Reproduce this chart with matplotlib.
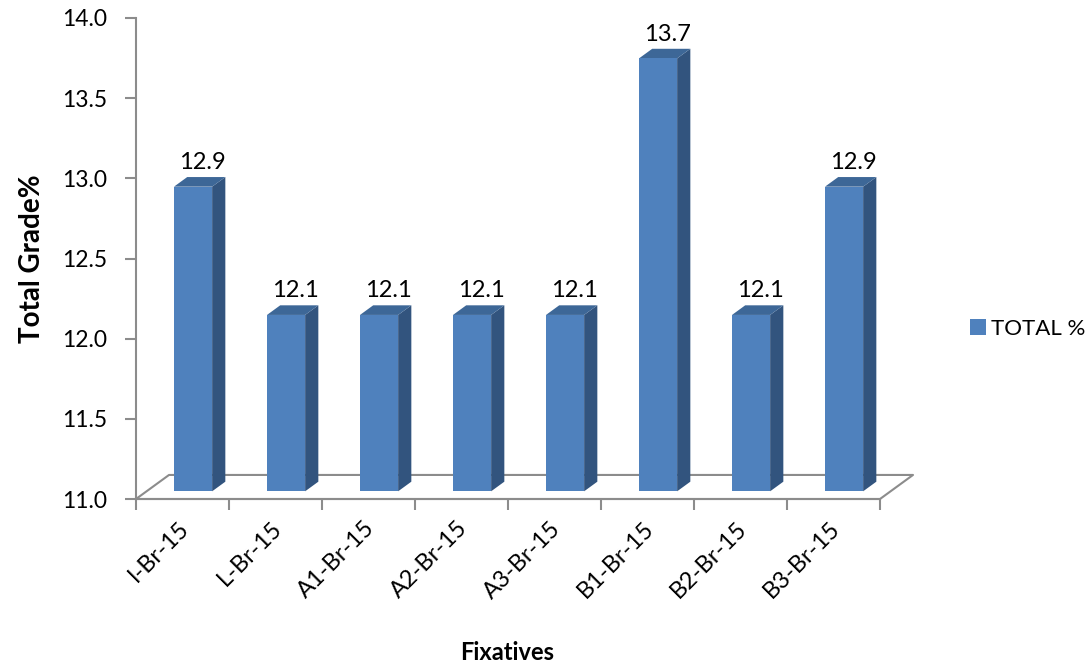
import matplotlib.pyplot as plt
from matplotlib.patches import Polygon, Patch
from matplotlib.transforms import ScaledTranslation

fixatives = ["I-Br-15", "L-Br-15", "A1-Br-15", "A2-Br-15",
             "A3-Br-15", "B1-Br-15", "B2-Br-15", "B3-Br-15"]
total_pct = [12.9, 12.1, 12.1, 12.1, 12.1, 13.7, 12.1, 12.9]
y_ticks = [11.0, 11.5, 12.0, 12.5, 13.0, 13.5, 14.0]

FRONT = "#4f81bd"
TOP = "#3d6797"
SIDE = "#32547e"
AXIS_GREY = "#8c8c8c"

# fake 3d: floor depth in data units, bar placed between two depth fractions
DX, DY = 0.355, 0.15
D0, D1 = 0.32, 0.72
BAR_W = 0.41

plt.rcParams["font.family"] = ["Lato", "DejaVu Sans"]

fig = plt.figure(figsize=(10.91, 6.68), dpi=100)
ax = fig.add_axes([136 / 1091, 169 / 668, 744 / 1091, 481 / 668])
ax.set_xlim(0, len(fixatives))
ax.set_ylim(11, 14)

# floor outline
fx = [0, len(fixatives), len(fixatives) + DX, DX, 0]
fy = [11, 11, 11 + DY, 11 + DY, 11]
ax.plot(fx, fy, color=AXIS_GREY, lw=1.5, clip_on=False, zorder=1)

for i, v in enumerate(total_pct):
    x0 = i + 0.5 - BAR_W / 2 + D0 * DX
    x1 = x0 + BAR_W
    yb = 11 + D0 * DY
    yt = v + D0 * DY
    ddx, ddy = (D1 - D0) * DX, (D1 - D0) * DY
    front = [(x0, yb), (x1, yb), (x1, yt), (x0, yt)]
    side = [(x1, yb), (x1 + ddx, yb + ddy), (x1 + ddx, yt + ddy), (x1, yt)]
    top = [(x0, yt), (x1, yt), (x1 + ddx, yt + ddy), (x0 + ddx, yt + ddy)]
    for pts, c in ((side, SIDE), (top, TOP), (front, FRONT)):
        ax.add_patch(Polygon(pts, closed=True, facecolor=c, edgecolor="none",
                             clip_on=False, zorder=3))
    lab_off = ScaledTranslation(0, 4 / 100, fig.dpi_scale_trans)
    ax.text(x0 + BAR_W / 2 + 0.1, yt + ddy, f"{v}", ha="center", va="bottom",
            fontsize=17, transform=ax.transData + lab_off, zorder=4)

for side_name in ("top", "right"):
    ax.spines[side_name].set_visible(False)
for side_name in ("left", "bottom"):
    ax.spines[side_name].set_color(AXIS_GREY)
    ax.spines[side_name].set_linewidth(1.5)

ax.set_yticks(y_ticks)
ax.set_yticklabels([f"{t:.1f}" for t in y_ticks], fontsize=16.5)
ax.tick_params(axis="y", length=8, width=1.5, color=AXIS_GREY, pad=13)
ax.set_xticks(range(len(fixatives) + 1))
ax.set_xticklabels([])
ax.tick_params(axis="x", length=8, width=1.5, color=AXIS_GREY)

tick_off = ScaledTranslation(3 / 100, -26 / 100, fig.dpi_scale_trans)
for i, name in enumerate(fixatives):
    ax.text(i + 0.5, 0, name, rotation=45, ha="right", va="center",
            rotation_mode="anchor", fontsize=17,
            transform=ax.get_xaxis_transform() + tick_off)

ax.set_ylabel("Total Grade%", fontsize=20, fontweight="bold", labelpad=12)
fig.text(507 / 1091, 1 - 652 / 668, "Fixatives", fontsize=17,
         fontweight="bold", ha="center", va="center")

fig.legend(handles=[Patch(facecolor=FRONT, label="TOTAL %")],
           loc="center left", bbox_to_anchor=(970 / 1091, 1 - 329 / 668),
           frameon=False, fontsize=16, handlelength=0.7, handleheight=0.7,
           handletextpad=0.25, borderpad=0, borderaxespad=0)

fig.savefig("out.png", dpi=100)
